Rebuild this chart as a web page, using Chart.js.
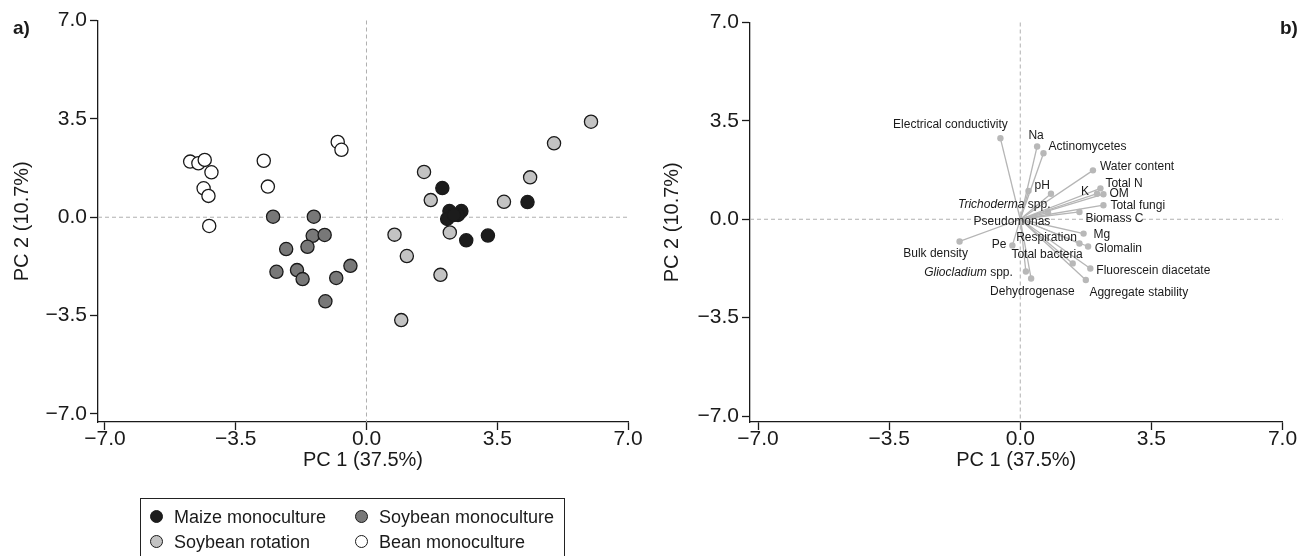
<!DOCTYPE html>
<html><head><meta charset="utf-8">
<script src="https://cdn.jsdelivr.net/npm/chart.js@4.4.1/dist/chart.umd.min.js"></script>
<style>
html,body{margin:0;padding:0;background:#fff;width:1309px;height:556px;overflow:hidden;font-family:'Liberation Sans',Arial,sans-serif;color:#1a1a1a;}
#wrapA{position:absolute;left:0;top:0;width:650px;height:556px;}
#wrapB{position:absolute;left:650px;top:0;width:659px;height:556px;}
.panel{position:absolute;font-weight:bold;font-size:19px;}
.legend{position:absolute;left:140px;top:498px;width:425px;height:80px;border:1.3px solid #222;box-sizing:border-box;}
.li{position:absolute;font-size:18px;white-space:nowrap;line-height:20px;}
.mk{position:absolute;width:11px;height:11px;border-radius:50%;border:1.3px solid #1a1a1a;}
</style></head><body>
<div id="wrapA"><canvas id="cA"></canvas></div>
<div id="wrapB"><canvas id="cB"></canvas></div>
<div class="panel" style="left:13px;top:17px;">a)</div>
<div class="panel" style="left:1280px;top:17px;">b)</div>
<div class="legend" id="legend"></div>
<script>
// ---------- data ----------
const tickValues = [-7, -3.5, 0, 3.5, 7];
const xTitle = 'PC 1 (37.5%)';
const yTitle = 'PC 2 (10.7%)';

const seriesNames = ['Maize monoculture', 'Soybean monoculture', 'Soybean rotation', 'Bean monoculture'];

const maizeX = [2.03, 4.31, 2.22, 2.54, 2.16, 2.45, 2.34, 2.67, 3.25];
const maizeY = [1.04, 0.54, 0.22, 0.22, -0.06, 0.08, 0.08, -0.82, -0.65];

const soyMonoX = [-2.50, -1.41, -1.44, -1.12, -2.15, -1.58, -2.41, -1.86, -1.71, -0.81, -0.43, -1.10];
const soyMonoY = [0.02, 0.02, -0.66, -0.63, -1.13, -1.05, -1.94, -1.88, -2.20, -2.16, -1.73, -2.99];

const soyRotX = [6.01, 5.02, 1.54, 4.38, 1.72, 3.68, 2.23, 0.75, 1.08, 1.98, 0.93];
const soyRotY = [3.40, 2.63, 1.61, 1.42, 0.61, 0.55, -0.54, -0.62, -1.38, -2.05, -3.66];

const beanX = [-4.72, -4.50, -4.33, -4.15, -4.36, -4.23, -4.21, -2.75, -2.64, -0.77, -0.67];
const beanY = [1.98, 1.92, 2.04, 1.60, 1.03, 0.76, -0.31, 2.01, 1.09, 2.68, 2.40];

const varNames = ['Electrical conductivity', 'Na', 'Actinomycetes', 'Water content', 'pH', 'K',
  'Total N', 'OM', 'Total fungi', 'Biomass C', 'Trichoderma spp.', 'Pseudomonas', 'Respiration',
  'Mg', 'Glomalin', 'Pe', 'Bulk density', 'Total bacteria', 'Fluorescein diacetate',
  'Gliocladium spp.', 'Dehydrogenase', 'Aggregate stability'];
const varX = [-0.53, 0.45, 0.62, 1.94, 0.22, 2.05, 2.14, 2.22, 2.22, 1.58, 0.74, 0.82, 1.58,
  1.69, 1.81, -0.21, -1.62, 1.40, 1.87, 0.15, 0.29, 1.75];
const varY = [2.88, 2.59, 2.35, 1.74, 1.01, 0.91, 1.10, 0.89, 0.50, 0.26, 0.24, 0.91, -0.86,
  -0.51, -0.97, -0.93, -0.79, -1.57, -1.75, -1.86, -2.11, -2.16];
const italicPart = {'Trichoderma spp.': 'Trichoderma', 'Gliocladium spp.': 'Gliocladium'};

// ---------- styles ----------
const FONT = "'Liberation Sans', Arial, sans-serif";
const INK = '#1a1a1a';
const seriesFill = ['#1c1c1c', '#787878', '#c3c3c3', '#ffffff'];
// label placement (pixel offsets from vector tip, text alignment)
const labelStyle = [
  [-50, -14, 'center'], [-1, -11, 'center'], [5, -7, 'left'], [7, -3.5, 'left'], [6, -5, 'left'],
  [-12, -2, 'center'], [5, -5, 'left'], [6, -1, 'left'], [7, 0.7, 'left'], [6, 6.3, 'left'],
  [2.5, -8.3, 'right'], [-39, 28.4, 'center'], [-2.6, -6, 'right'], [10, 0.7, 'left'],
  [6.6, 1.7, 'left'], [-6, -1, 'right'], [-24, 12, 'center'], [-25.6, -8.3, 'center'],
  [6, 2.4, 'left'], [-13, 1, 'right'], [1.3, 13.4, 'center'], [3.6, 12.6, 'left']
];

function fmt(v) { return (v < 0 ? '\u2212' : '') + Math.abs(v).toFixed(1); }
function pts(xs, ys) { return xs.map((x, i) => ({x: x, y: ys[i]})); }

function makeScales(xmin, ymin, yWidth) {
  const common = (min, max, title, isX) => ({
    type: 'linear', min: min, max: max,
    afterBuildTicks: s => { s.ticks = tickValues.map(v => ({value: v})); },
    afterFit: s => { if (isX) s.height = 50; else s.width = yWidth; },
    ticks: {callback: fmt, color: INK, font: {family: FONT, size: 21}, padding: isX ? -3 : 3,
            maxRotation: 0, autoSkip: false},
    grid: {display: true, drawOnChartArea: false, drawTicks: true, tickLength: 8,
           tickColor: INK, tickWidth: 1.3},
    border: {display: true, color: INK, width: 1.3},
    title: {display: true, text: title, color: INK, font: {family: FONT, size: 20},
            padding: isX ? {top: 0, bottom: 0} : {top: 10, bottom: 0}}
  });
  return {x: common(xmin, 7, xTitle, true), y: common(ymin, 7, yTitle, false)};
}

const zeroLines = {
  id: 'zeroLines',
  beforeDatasetsDraw(chart) {
    const {ctx, chartArea: a, scales: {x, y}} = chart;
    ctx.save();
    ctx.strokeStyle = '#b0b0b0'; ctx.lineWidth = 1; ctx.setLineDash([4, 3]);
    const px = x.getPixelForValue(0), py = y.getPixelForValue(0);
    ctx.beginPath(); ctx.moveTo(px, a.top); ctx.lineTo(px, a.bottom); ctx.stroke();
    ctx.beginPath(); ctx.moveTo(a.left, py); ctx.lineTo(a.right, py); ctx.stroke();
    ctx.restore();
  }
};

// ---------- chart a ----------
const seriesXs = [maizeX, soyMonoX, soyRotX, beanX];
const seriesYs = [maizeY, soyMonoY, soyRotY, beanY];
const order = [3, 1, 2, 0];
new Chart(document.getElementById('cA'), {
  type: 'scatter',
  data: {datasets: order.map(i => ({
    label: seriesNames[i], data: pts(seriesXs[i], seriesYs[i]),
    backgroundColor: seriesFill[i], borderColor: INK, borderWidth: 1.3,
    pointRadius: 6.6, pointHoverRadius: 6.6
  }))},
  options: {
    responsive: true, maintainAspectRatio: false, animation: false,
    layout: {padding: {left: 0, top: 20.5, right: 22, bottom: 84}},
    plugins: {legend: {display: false}, tooltip: {enabled: false}},
    scales: makeScales(-7.187, -7.285, 98)
  },
  plugins: [zeroLines]
});

// ---------- chart b ----------
const vecLabels = {
  id: 'vecLabels',
  afterDatasetsDraw(chart) {
    const {ctx, scales: {x, y}} = chart;
    ctx.save();
    ctx.fillStyle = INK; ctx.textBaseline = 'middle';
    const reg = '12px ' + FONT, ita = 'italic 12px ' + FONT;
    varNames.forEach((name, i) => {
      const [dx, dy, align] = labelStyle[i];
      const px = x.getPixelForValue(varX[i]) + dx, py = y.getPixelForValue(varY[i]) + dy;
      const it = italicPart[name];
      if (it) {
        const rest = name.slice(it.length);
        ctx.font = ita; const w1 = ctx.measureText(it).width;
        ctx.font = reg; const w2 = ctx.measureText(rest).width;
        let sx = align === 'right' ? px - w1 - w2 : align === 'center' ? px - (w1 + w2) / 2 : px;
        ctx.textAlign = 'left';
        ctx.font = ita; ctx.fillText(it, sx, py);
        ctx.font = reg; ctx.fillText(rest, sx + w1, py);
      } else {
        ctx.font = reg; ctx.textAlign = align; ctx.fillText(name, px, py);
      }
    });
    ctx.restore();
  }
};
new Chart(document.getElementById('cB'), {
  type: 'scatter',
  data: {datasets: varNames.map((n, i) => ({
    label: n, data: [{x: 0, y: 0}, {x: varX[i], y: varY[i]}], showLine: true,
    borderColor: '#b5b5b5', borderWidth: 1.3, backgroundColor: '#b8b8b8',
    pointRadius: [0, 3.2], pointBorderWidth: 0, pointHoverRadius: [0, 3.2]
  }))},
  options: {
    responsive: true, maintainAspectRatio: false, animation: false,
    layout: {padding: {left: 0, top: 22.5, right: 26.5, bottom: 84}},
    plugins: {legend: {display: false}, tooltip: {enabled: false}},
    scales: makeScales(-7.214, -7.213, 100)
  },
  plugins: [zeroLines, vecLabels]
});

// ---------- legend (HTML) ----------
const leg = document.getElementById('legend');
const legPos = [[0, 0], [1, 0], [0, 1], [1, 1]];
const legIdx = [0, 1, 2, 3];
legIdx.forEach((si, k) => {
  const [c, r] = legPos[k];
  const mx = c === 0 ? 9 : 214, ty = 8 + r * 25;
  const m = document.createElement('div'); m.className = 'mk';
  m.style.left = mx + 'px'; m.style.top = (ty + 3) + 'px'; m.style.background = seriesFill[si];
  leg.appendChild(m);
  const t = document.createElement('div'); t.className = 'li';
  t.style.left = (mx + 24) + 'px'; t.style.top = ty + 'px'; t.textContent = seriesNames[si];
  leg.appendChild(t);
});
</script>
</body></html>
